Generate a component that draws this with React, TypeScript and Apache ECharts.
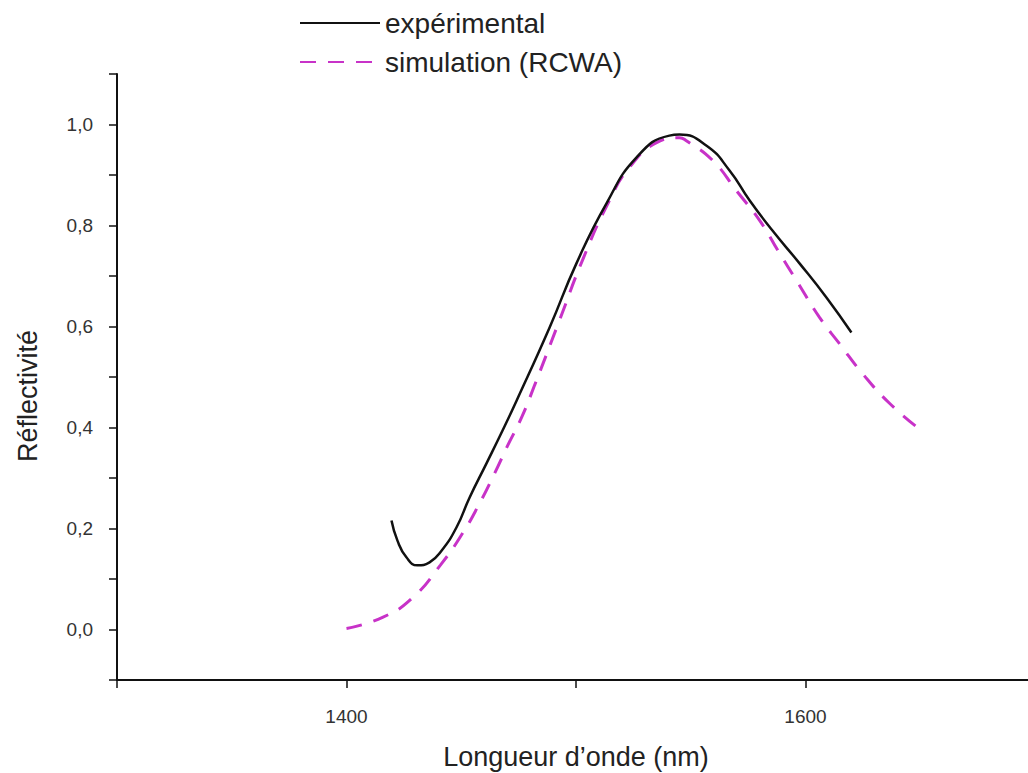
import React, { useEffect, useRef } from "react";
import * as echarts from "echarts";

// Experimental curve (wavelength nm, reflectivity)
const expWavelength = [1419.6, 1422.2, 1426.1, 1430.9, 1436.2, 1441.4, 1447.9, 1453.6, 1461.0, 1468.0, 1474.1, 1488.5, 1500.2, 1513.3, 1526.4, 1540.7, 1545.1, 1556.9, 1566.9, 1575.6, 1585.6, 1597.4, 1609.2, 1620.0];
const expReflect = [0.216, 0.176, 0.143, 0.127, 0.133, 0.156, 0.202, 0.261, 0.329, 0.394, 0.453, 0.598, 0.725, 0.844, 0.935, 0.978, 0.980, 0.958, 0.909, 0.850, 0.790, 0.725, 0.657, 0.588];

// Simulation (RCWA)
const simWavelength = [1400, 1415.7, 1428.8, 1441.0, 1450.5, 1458.0, 1464.5, 1470.2, 1476.3, 1481.9, 1492.8, 1502.8, 1514.6, 1523.3, 1535.1, 1545.1, 1548.1, 1559.5, 1569.9, 1580.0, 1588.7, 1596.1, 1606.1, 1614.8, 1624.8, 1636.6, 1648.8];
const simReflect = [0.002, 0.024, 0.063, 0.128, 0.190, 0.250, 0.309, 0.364, 0.420, 0.483, 0.612, 0.731, 0.850, 0.915, 0.964, 0.974, 0.968, 0.929, 0.869, 0.810, 0.745, 0.691, 0.618, 0.566, 0.507, 0.448, 0.400];

const seriesNames = ["expérimental", "simulation (RCWA)"];
const xAxisTitle = "Longueur d’onde (nm)";
const yAxisTitle = "Réflectivité";

const FONT = '"Liberation Sans", Arial, sans-serif';

export default function App() {
  const ref = useRef<HTMLDivElement>(null);
  useEffect(() => {
    document.body.style.margin = "0";
    const chart = echarts.init(ref.current!, null, { renderer: "svg" });
    const expData = expWavelength.map((x, i) => [x, expReflect[i]]);
    const simData = simWavelength.map((x, i) => [x, simReflect[i]]);
    chart.setOption({
      animation: false,
      backgroundColor: "#ffffff",
      grid: {
        left: 117,
        top: 74,
        width: 918,
        height: 606,
        containLabel: false,
        outerBoundsMode: "none",
      },
      legend: {
        orient: "vertical",
        left: 294,
        top: 4,
        itemWidth: 80,
        itemHeight: 14,
        itemGap: 11,
        itemStyle: { color: "rgba(0,0,0,0)", borderWidth: 0, opacity: 0 },
        textStyle: { fontFamily: FONT, fontSize: 28, color: "#222" },
        data: seriesNames,
      },
      xAxis: {
        type: "value",
        min: 1300,
        max: 1700,
        interval: 100,
        axisLine: { show: true, onZero: false, lineStyle: { color: "#111", width: 2 } },
        axisTick: { show: true, inside: false, length: 8, lineStyle: { color: "#111", width: 1.5 } },
        splitLine: { show: false },
        axisLabel: {
          margin: 27,
          fontFamily: FONT,
          fontSize: 19,
          color: "#333",
          showMinLabel: true,
          showMaxLabel: true,
          formatter: (v: number) => (Math.round(v / 100) % 2 === 0 ? String(v) : ""),
        },
        name: xAxisTitle,
        nameLocation: "middle",
        nameGap: 63,
        nameTextStyle: { fontFamily: FONT, fontSize: 27, color: "#222" },
      },
      yAxis: {
        type: "value",
        min: -0.1,
        max: 1.1,
        interval: 0.1,
        axisLine: { show: true, onZero: false, lineStyle: { color: "#111", width: 2 } },
        axisTick: { show: true, inside: false, length: 8, lineStyle: { color: "#111", width: 1.5 } },
        splitLine: { show: false },
        axisLabel: {
          margin: 24,
          fontFamily: FONT,
          fontSize: 19,
          color: "#333",
          formatter: (v: number) => {
            const k = Math.round(v * 10);
            return k % 2 === 0 ? (k / 10).toFixed(1).replace(".", ",") : "";
          },
        },
      },
      graphic: [
        {
          type: "text",
          x: 28,
          y: 396,
          rotation: Math.PI / 2,
          style: {
            text: yAxisTitle,
            font: `27px ${FONT}`,
            fill: "#222",
            align: "center",
            verticalAlign: "middle",
          },
        },
      ],
      series: [
        {
          name: seriesNames[0],
          type: "line",
          data: expData,
          smooth: 0.5,
          symbol: "none",
          lineStyle: { color: "#111", width: 2.5 },
          itemStyle: { color: "#111" },
          z: 3,
        },
        {
          name: seriesNames[1],
          type: "line",
          data: simData,
          smooth: 0.5,
          symbol: "none",
          lineStyle: { color: "#c832c8", width: 3, type: [16, 12] },
          itemStyle: { color: "#c832c8" },
          z: 2,
        },
      ],
    });
    return () => chart.dispose();
  }, []);
  return <div ref={ref} style={{ width: 1028, height: 773 }} />;
}
